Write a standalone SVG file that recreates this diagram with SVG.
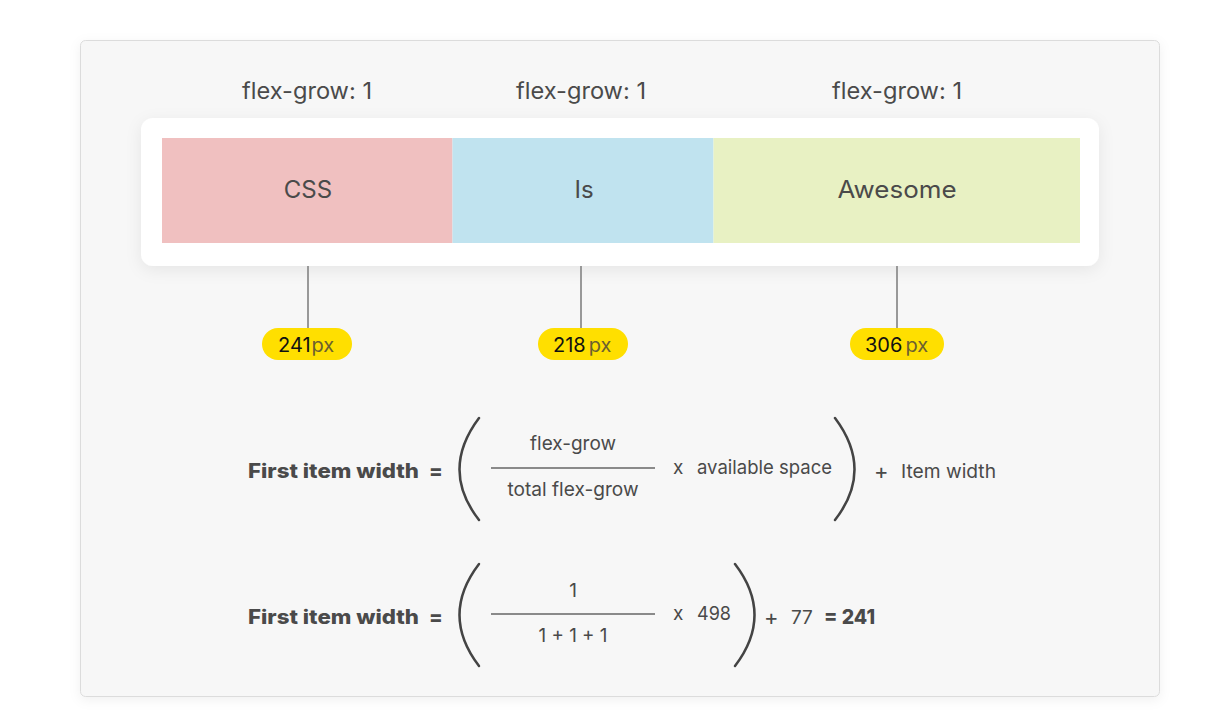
<svg xmlns="http://www.w3.org/2000/svg" width="1209" height="715" viewBox="0 0 1209 715">
<defs>
<filter id="sh" x="-10%" y="-30%" width="120%" height="160%"><feDropShadow dx="0" dy="4" stdDeviation="8" flood-color="#000" flood-opacity="0.07"/></filter>
<filter id="sh2" x="-5%" y="-5%" width="110%" height="110%"><feDropShadow dx="0" dy="3" stdDeviation="6" flood-color="#000" flood-opacity="0.06"/></filter>
</defs>
<style>
text{font-family:Inter,"Noto Sans","Liberation Sans",sans-serif;fill:#4a4a4a}
.hd{font-size:22.5px;text-anchor:middle}
.bx{font-size:24px;text-anchor:middle}
.pill{fill:#ffdf00}
.num{font-size:20px;fill:#111}
.px{font-size:20px;fill:#6b6030}
.conn{stroke:#999;stroke-width:2}
.f{font-size:19px}
.pl{font-size:22px}
.b{font-size:20px;font-weight:800}
.fl{stroke:#8a8a8a;stroke-width:2}
.par{fill:none;stroke:#444;stroke-width:2.5;stroke-linecap:round}
</style>
<rect width="1209" height="715" fill="#fff"/>
<rect x="80.5" y="40.5" width="1079" height="656" rx="5" fill="#f7f7f7" stroke="#dcdcdc" filter="url(#sh2)"/>
<g id="labels">
<text class="hd" x="307" y="99" textLength="130" lengthAdjust="spacingAndGlyphs">flex-grow: 1</text>
<text class="hd" x="581" y="99" textLength="130" lengthAdjust="spacingAndGlyphs">flex-grow: 1</text>
<text class="hd" x="897" y="99" textLength="130" lengthAdjust="spacingAndGlyphs">flex-grow: 1</text>
</g>
<g id="container"><rect x="141" y="118" width="958" height="148" rx="12" fill="#fff" filter="url(#sh)"/></g>
<g id="css"><rect x="162" y="138" width="290.5" height="105" fill="#f0c0c0"/><text class="bx" x="308" y="198">CSS</text></g>
<g id="is"><rect x="452.5" y="138" width="261" height="105" fill="#c0e3ef"/><text class="bx" x="584" y="198">Is</text></g>
<g id="awesome"><rect x="713.5" y="138" width="366.5" height="105" fill="#e8f1c3"/><text class="bx" x="897" y="198" textLength="119" lengthAdjust="spacingAndGlyphs">Awesome</text></g>
<g id="connectors">
<line class="conn" x1="308" y1="266" x2="308" y2="330"/>
<line class="conn" x1="581" y1="266" x2="581" y2="330"/>
<line class="conn" x1="897" y1="266" x2="897" y2="330"/>
</g>
<g id="p241"><rect class="pill" x="262" y="328" width="90" height="32" rx="16"/><text x="278" y="352"><tspan class="num">241</tspan><tspan class="px" dx="1">px</tspan></text></g>
<g id="p218"><rect class="pill" x="538" y="328" width="90" height="32" rx="16"/><text x="553" y="352"><tspan class="num">218</tspan><tspan class="px" dx="3">px</tspan></text></g>
<g id="p306"><rect class="pill" x="850" y="328" width="94" height="32" rx="16"/><text x="865" y="352"><tspan class="num">306</tspan><tspan class="px" dx="3">px</tspan></text></g>
<g id="formula1">
<text class="b" x="248" y="478" textLength="171" lengthAdjust="spacingAndGlyphs">First item width</text>
<text class="b" x="429" y="478">=</text>
<path class="par" d="M479,418 Q440,470 479,520"/>
<text class="f" x="573" y="450" text-anchor="middle" textLength="86" lengthAdjust="spacingAndGlyphs">flex-grow</text>
<line class="fl" x1="491" y1="468" x2="655" y2="468"/>
<text class="f" x="573" y="496" text-anchor="middle" textLength="131" lengthAdjust="spacingAndGlyphs">total flex-grow</text>
<text class="f" x="673" y="474">x</text>
<text class="f" x="697" y="474" textLength="135" lengthAdjust="spacingAndGlyphs">available space</text>
<path class="par" d="M835,418 Q874,470 835,520"/>
<text class="pl" x="874" y="479">+</text>
<text class="f" x="901" y="478" textLength="95" lengthAdjust="spacingAndGlyphs">Item width</text>
</g>
<g id="formula2">
<text class="b" x="248" y="624" textLength="171" lengthAdjust="spacingAndGlyphs">First item width</text>
<text class="b" x="429" y="624">=</text>
<path class="par" d="M479,564 Q440,615 479,666"/>
<text class="f" x="573" y="597" text-anchor="middle">1</text>
<line class="fl" x1="491" y1="614" x2="655" y2="614"/>
<text class="f" x="573" y="642" text-anchor="middle" textLength="69" lengthAdjust="spacingAndGlyphs">1 + 1 + 1</text>
<text class="f" x="673" y="620">x</text>
<text class="f" x="697" y="620" textLength="34" lengthAdjust="spacingAndGlyphs">498</text>
<path class="par" d="M735,564 Q774,615 735,666"/>
<text class="pl" x="764" y="625">+</text>
<text class="f" x="791" y="624">77</text>
<text class="b" x="824" y="624" textLength="51" lengthAdjust="spacingAndGlyphs">= 241</text>
</g>
</svg>
